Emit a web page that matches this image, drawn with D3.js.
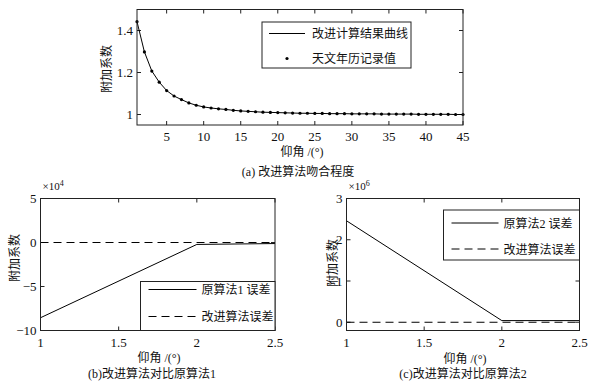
<!DOCTYPE html>
<html>
<head>
<meta charset="utf-8">
<script src="https://cdn.jsdelivr.net/npm/d3@7"></script>
<style>
  html, body { margin: 0; padding: 0; background: #fff; }
  svg text { font-family: 'Liberation Serif', 'DejaVu Serif', 'Noto Sans CJK SC', serif; fill: #111; }
</style>
</head>
<body>
<svg id="plot"></svg>
<script>
const WIDTH = 596;
const HEIGHT = 391;

const svg = d3.select("#plot").attr("width", WIDTH).attr("height", HEIGHT);

// (a) elevation angle vs additional coefficient
const anglesA = d3.range(1, 46);
const almanacA = [
	1.442, 1.298, 1.207, 1.154, 1.114, 1.088, 1.071, 1.055, 1.044, 1.036,
	1.031, 1.027, 1.024, 1.020, 1.017, 1.015, 1.013, 1.011, 1.010, 1.009,
	1.008, 1.007, 1.006, 1.006, 1.005, 1.005, 1.004, 1.004, 1.004, 1.003,
	1.003, 1.003, 1.003, 1.002, 1.002, 1.002, 1.002, 1.002, 1.001, 1.001,
	1.001, 1.001, 1.001, 1.000, 1.000,
];
const xTicksA = [5, 10, 15, 20, 25, 30, 35, 40, 45];
const yTicksA = [1, 1.2, 1.4];

// (b) original method 1 error vs improved error (x1e4)
const anglesB = [1, 2, 2.5];
const origErrB = [-8.55, -0.22, -0.12];
const newErrB = [0, 0, 0];
const yTicksB = [-10, -5, 0, 5];

// (c) original method 2 error vs improved error (x1e6)
const anglesC = [1, 2, 2.5];
const origErrC = [2.46, 0.04, 0.04];
const newErrC = [0, 0, 0];
const yTicksC = [0, 1, 2, 3];

const xTicksBC = [1, 1.5, 2, 2.5];

const TICK_LEN = 4;
const DASH = "8,5";
const NUM_FONT = "'Liberation Serif', 'DejaVu Serif', serif";
const CJK_FONT = "'Liberation Serif', 'Noto Sans CJK SC', serif";

function drawPanel(p) {
	const g = svg.append("g");
	const xScale = d3.scaleLinear(p.xDomain, [p.left, p.right]);
	const yScale = d3.scaleLinear(p.yDomain, [p.bottom, p.top]);

	// ticks on all four sides, pointing inward
	p.xTicks.forEach(t => {
		const x = xScale(t);
		g.append("line").attr("x1", x).attr("x2", x)
			.attr("y1", p.bottom).attr("y2", p.bottom - TICK_LEN)
			.attr("stroke", "#222");
		g.append("line").attr("x1", x).attr("x2", x)
			.attr("y1", p.top).attr("y2", p.top + TICK_LEN)
			.attr("stroke", "#222");
		g.append("text").attr("x", x).attr("y", p.bottom + 16)
			.attr("text-anchor", "middle").attr("font-size", 13)
			.attr("font-family", NUM_FONT)
			.text(p.xFormat(t));
	});
	p.yTicks.forEach(t => {
		const y = yScale(t);
		g.append("line").attr("x1", p.left).attr("x2", p.left + TICK_LEN)
			.attr("y1", y).attr("y2", y).attr("stroke", "#222");
		g.append("line").attr("x1", p.right).attr("x2", p.right - TICK_LEN)
			.attr("y1", y).attr("y2", y).attr("stroke", "#222");
		g.append("text").attr("x", p.left - 4).attr("y", y + 4.5)
			.attr("text-anchor", "end").attr("font-size", 13)
			.attr("font-family", NUM_FONT)
			.text(p.yFormat(t));
	});

	const line = d3.line().x(d => xScale(d[0])).y(d => yScale(d[1]));
	p.series.forEach(s => {
		const pts = s.x.map((x, i) => [x, s.y[i]]);
		if (s.type === "dots") {
			g.selectAll(null).data(pts).join("circle")
				.attr("cx", d => xScale(d[0])).attr("cy", d => yScale(d[1]))
				.attr("r", 1.6).attr("fill", "#000");
		} else {
			g.append("path").attr("d", line(pts))
				.attr("fill", "none").attr("stroke", "#000")
				.attr("stroke-width", 1)
				.attr("stroke-dasharray", s.type === "dashed" ? DASH : null);
		}
	});

	// axes box
	g.append("rect").attr("x", p.left).attr("y", p.top)
		.attr("width", p.right - p.left).attr("height", p.bottom - p.top)
		.attr("fill", "none").attr("stroke", "#222").attr("stroke-width", 1);

	if (p.exponent) {
		const t = g.append("text").attr("x", p.left + 2).attr("y", p.top - 9)
			.attr("font-size", 11).attr("font-family", NUM_FONT);
		t.append("tspan").text("×10");
		t.append("tspan").attr("dy", -4).attr("font-size", 8).text(p.exponent);
	}

	// legend
	const lg = p.legend;
	g.append("rect").attr("x", lg.x).attr("y", lg.y)
		.attr("width", lg.w).attr("height", lg.h)
		.attr("fill", "#fff").attr("stroke", "#222");
	lg.items.forEach((it, i) => {
		const y = lg.y + lg.rowY[i];
		if (it.type === "dots") {
			g.append("circle").attr("cx", lg.x + lg.sample[0] + (lg.sample[1] - lg.sample[0]) / 2)
				.attr("cy", y).attr("r", 1.6).attr("fill", "#000");
		} else {
			g.append("line").attr("x1", lg.x + lg.sample[0]).attr("x2", lg.x + lg.sample[1])
				.attr("y1", y).attr("y2", y).attr("stroke", "#000")
				.attr("stroke-dasharray", it.type === "dashed" ? DASH : null);
		}
		g.append("text").attr("x", lg.x + lg.textX).attr("y", y + 4.5)
			.attr("font-size", 12).attr("font-family", CJK_FONT).text(it.label);
	});

	// labels
	g.append("text").attr("x", p.xLabelX).attr("y", p.xLabelY)
		.attr("text-anchor", "middle").attr("font-size", 12)
		.attr("font-family", CJK_FONT).text("仰角 /(°)");
	g.append("text")
		.attr("transform", `translate(${p.yLabelX},${p.yLabelY}) rotate(-90)`)
		.attr("text-anchor", "middle").attr("font-size", 12)
		.attr("font-family", CJK_FONT).text("附加系数");
	g.append("text").attr("x", p.captionX).attr("y", p.captionY)
		.attr("text-anchor", "middle").attr("font-size", 12)
		.attr("font-family", CJK_FONT).text(p.caption);
}

drawPanel({
	left: 137, right: 463, top: 9.5, bottom: 125,
	xDomain: [1, 45], yDomain: [0.95, 1.5],
	xTicks: xTicksA, yTicks: yTicksA,
	xFormat: d3.format("d"), yFormat: d => d3.format(".1f")(d).replace(/\.0$/, ""),
	series: [
		{ type: "solid", x: anglesA, y: almanacA },
		{ type: "dots", x: anglesA, y: almanacA },
	],
	legend: {
		x: 262, y: 22, w: 149, h: 46, sample: [7, 43], textX: 50, rowY: [11.5, 36.5],
		items: [
			{ type: "solid", label: "改进计算结果曲线" },
			{ type: "dots", label: "天文年历记录值" },
		],
	},
	xLabelX: 302, xLabelY: 156, yLabelX: 111, yLabelY: 69,
	caption: "(a) 改进算法吻合程度", captionX: 298, captionY: 176,
});

drawPanel({
	left: 40.5, right: 275, top: 198.5, bottom: 330.5,
	xDomain: [1, 2.5], yDomain: [-10, 5],
	xTicks: xTicksBC, yTicks: yTicksB,
	xFormat: d => String(d), yFormat: d3.format("d"),
	exponent: "4",
	series: [
		{ type: "solid", x: anglesB, y: origErrB },
		{ type: "dashed", x: anglesB, y: newErrB },
	],
	legend: {
		x: 140.5, y: 281.5, w: 134.5, h: 49, sample: [8, 56], textX: 61, rowY: [8, 35],
		items: [
			{ type: "solid", label: "原算法1 误差" },
			{ type: "dashed", label: "改进算法误差" },
		],
	},
	xLabelX: 159, xLabelY: 362, yLabelX: 19, yLabelY: 258,
	caption: "(b)改进算法对比原算法1", captionX: 152, captionY: 378,
});

drawPanel({
	left: 346.5, right: 579.5, top: 198.5, bottom: 330.5,
	xDomain: [1, 2.5], yDomain: [-0.2, 3],
	xTicks: xTicksBC, yTicks: yTicksC,
	xFormat: d => String(d), yFormat: d3.format("d"),
	exponent: "6",
	series: [
		{ type: "solid", x: anglesC, y: origErrC },
		{ type: "dashed", x: anglesC, y: newErrC },
	],
	legend: {
		x: 443.5, y: 210, w: 136, h: 50, sample: [8, 55], textX: 60, rowY: [13, 39],
		items: [
			{ type: "solid", label: "原算法2 误差" },
			{ type: "dashed", label: "改进算法误差" },
		],
	},
	xLabelX: 465, xLabelY: 363, yLabelX: 337, yLabelY: 263,
	caption: "(c)改进算法对比原算法2", captionX: 463, captionY: 378,
});
</script>
</body>
</html>
